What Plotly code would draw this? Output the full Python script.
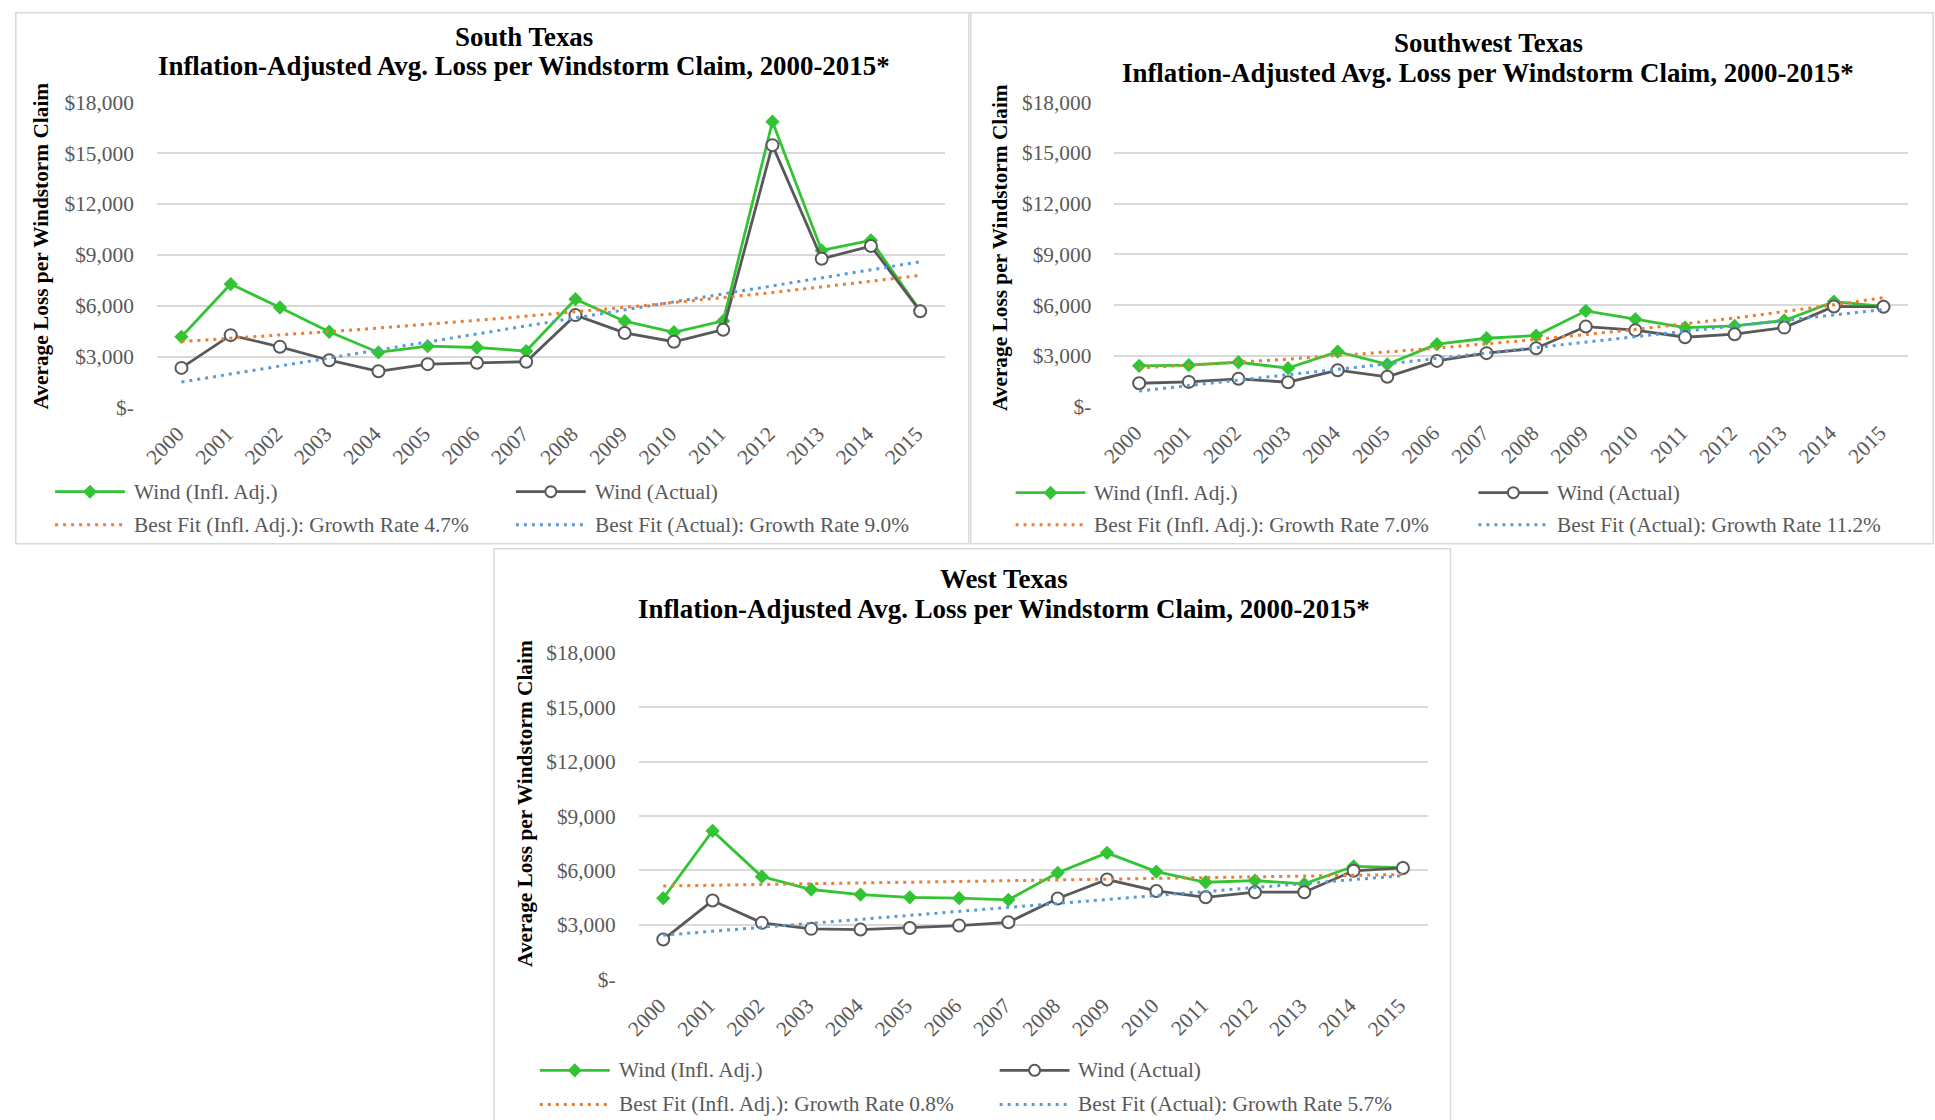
import numpy as np
import plotly.graph_objects as go

W, H = 1935, 1120
FONT = "Liberation Serif"
GRAY_TXT = "#595959"
GREEN = "#33C433"
DARK = "#595959"
ORANGE = "#ED7D31"
BLUE = "#5B9BD5"
GRID = "#D9D9D9"
F_TITLE = 26.9
F_TICK = 21.33
F_YT = 21.33

# ---------------- data ----------------
year_labels = ["2000", "2001", "2002", "2003", "2004", "2005", "2006", "2007",
               "2008", "2009", "2010", "2011", "2012", "2013", "2014", "2015"]

south_infl = [4170, 7280, 5900, 4470, 3250, 3620, 3540, 3330, 6390, 5090, 4440, 5110, 16850, 9260, 9860, 5700]
south_actual = [2340, 4270, 3580, 2790, 2140, 2560, 2640, 2700, 5450, 4400, 3880, 4590, 15470, 8770, 9520, 5680]

sw_infl = [2410, 2450, 2620, 2270, 3250, 2500, 3690, 4040, 4200, 5660, 5170, 4670, 4770, 5090, 6210, 5930]
sw_actual = [1380, 1460, 1640, 1440, 2150, 1760, 2700, 3160, 3450, 4730, 4520, 4100, 4280, 4670, 5920, 5900]

west_infl = [4470, 8180, 5660, 4950, 4670, 4520, 4470, 4380, 5870, 6970, 5940, 5350, 5440, 5260, 6230, 6160]
west_actual = [2190, 4340, 3110, 2780, 2740, 2830, 2960, 3140, 4450, 5500, 4870, 4520, 4800, 4800, 5980, 6140]

region_names = ["South Texas", "Southwest Texas", "West Texas"]
growth_infl = ["4.7%", "7.0%", "0.8%"]
growth_actual = ["9.0%", "11.2%", "5.7%"]

y_tick_vals = [0, 3000, 6000, 9000, 12000, 15000, 18000]
y_tick_text = ["$-", "$3,000", "$6,000", "$9,000", "$12,000", "$15,000", "$18,000"]

subtitle = "Inflation-Adjusted Avg. Loss per Windstorm Claim, 2000-2015*"
y_title = "Average Loss per Windstorm Claim"

# ---------------- layout geometry (target pixels in the final picture) ----------------
panels = [
    dict(box=(5, 4, 966, 542), plot=(152, 101, 942, 406), title_x=520, title_y=(36, 65),
         ytitle=(36, 245), leg_x=(50, 512), leg_y=(490, 523)),
    dict(box=(968, 4, 1933, 542), plot=(1112, 101, 1908, 405), title_x=1487, title_y=(42, 72),
         ytitle=(998, 246), leg_x=(1013, 1477), leg_y=(491, 523)),
    dict(box=(490, 547, 1449, 1160), plot=(635, 651, 1426, 977), title_x=1001, title_y=(577, 607),
         ytitle=(521, 801), leg_x=(536, 997), leg_y=(1068, 1102)),
]
series = [(south_infl, south_actual), (sw_infl, sw_actual), (west_infl, west_actual)]

# the page is photographed with a small padding; compensate so that
# target picture pixels map to the right paper positions
SX, OX = 0.9948, 9.8
SY, OY = 0.9774, 10.9


def px_x(x):
    return (x - OX) / SX


def px_y(y):
    return (y - OY) / SY


def fx(x):
    return px_x(x) / W


def fy(y):
    return 1 - px_y(y) / H


def clamp_x(v):
    return min(max(v, 0.8 / W), 1 - 0.8 / W)


def clamp_top(v):
    return min(v, 1 - 0.8 / H)


fig = go.Figure()
shapes = []
annotations = []
layout_axes = {}

x_idx = np.arange(len(year_labels))
xs_fine = np.linspace(0, len(year_labels) - 1, 151)

for i, (pan, (infl, actual)) in enumerate(zip(panels, series)):
    n = i + 1
    xa = "x" if n == 1 else f"x{n}"
    ya = "y" if n == 1 else f"y{n}"
    xname = "xaxis" if n == 1 else f"xaxis{n}"
    yname = "yaxis" if n == 1 else f"yaxis{n}"
    px0, py0, px1, py1 = pan["plot"]

    layout_axes[xname] = dict(
        domain=[fx(px0), fx(px1)], anchor=ya, range=[-0.5, len(year_labels) - 0.5],
        tickmode="array", tickvals=list(x_idx),
        ticktext=[lab + "\u00a0" for lab in year_labels], tickangle=-45,
        showgrid=False, zeroline=False, showline=False, ticks="",
        tickfont=dict(family=FONT, size=F_TICK, color=GRAY_TXT), ticklabelstandoff=5,
        fixedrange=True,
    )
    layout_axes[yname] = dict(
        domain=[fy(py1), fy(py0)], anchor=xa, range=[0, 18000],
        tickmode="array", tickvals=y_tick_vals, ticktext=y_tick_text,
        showgrid=True, gridcolor=GRID, gridwidth=1.5, zeroline=False, showline=False, ticks="",
        tickfont=dict(family=FONT, size=F_TICK, color=GRAY_TXT), ticklabelstandoff=22,
        fixedrange=True,
    )

    # data series
    fig.add_trace(go.Scatter(
        x=x_idx, y=infl, xaxis=xa, yaxis=ya, mode="lines+markers",
        line=dict(color=GREEN, width=2.8),
        marker=dict(symbol="diamond", size=11, color=GREEN),
        cliponaxis=False, showlegend=False, name="Wind (Infl. Adj.)"))
    fig.add_trace(go.Scatter(
        x=x_idx, y=actual, xaxis=xa, yaxis=ya, mode="lines+markers",
        line=dict(color=DARK, width=2.8),
        marker=dict(symbol="circle", size=12, color="white", line=dict(color=DARK, width=2)),
        cliponaxis=False, showlegend=False, name="Wind (Actual)"))

    # trendlines: exponential fit of inflation-adjusted, linear fit of actual
    b_exp = np.polyfit(x_idx, np.log(np.array(infl, dtype=float)), 1)
    trend_infl = np.exp(b_exp[1] + b_exp[0] * xs_fine)
    b_lin = np.polyfit(x_idx, np.array(actual, dtype=float), 1)
    trend_act = b_lin[1] + b_lin[0] * xs_fine
    fig.add_trace(go.Scatter(
        x=xs_fine, y=trend_infl, xaxis=xa, yaxis=ya, mode="lines",
        line=dict(color=ORANGE, width=3, dash="3px,5px"), showlegend=False,
        name="Best Fit (Infl. Adj.)"))
    fig.add_trace(go.Scatter(
        x=xs_fine, y=trend_act, xaxis=xa, yaxis=ya, mode="lines",
        line=dict(color=BLUE, width=3, dash="3px,5px"), showlegend=False,
        name="Best Fit (Actual)"))

    # panel border
    bx0, by0, bx1, by1 = pan["box"]
    shapes.append(dict(type="rect", xref="paper", yref="paper",
                       x0=clamp_x(fx(bx0)), x1=clamp_x(fx(bx1)),
                       y0=fy(by1), y1=clamp_top(fy(by0)),
                       line=dict(color=GRID, width=1.5), fillcolor="rgba(0,0,0,0)", layer="below"))

    # titles
    tx = pan["title_x"]
    annotations.append(dict(text=f"<b>{region_names[i]}</b>", xref="paper", yref="paper",
                            x=fx(tx), y=fy(pan["title_y"][0]), xanchor="center", yanchor="middle",
                            showarrow=False, font=dict(family=FONT, size=F_TITLE, color="black")))
    annotations.append(dict(text=f"<b>{subtitle}</b>", xref="paper", yref="paper",
                            x=fx(tx), y=fy(pan["title_y"][1]), xanchor="center", yanchor="middle",
                            showarrow=False, font=dict(family=FONT, size=F_TITLE, color="black")))
    # y-axis title
    annotations.append(dict(text=f"<b>{y_title}</b>", xref="paper", yref="paper",
                            x=fx(pan["ytitle"][0]), y=fy(pan["ytitle"][1]), textangle=-90,
                            xanchor="center", yanchor="middle", showarrow=False,
                            font=dict(family=FONT, size=F_YT, color="black")))

    # legend (manual, 2x2) drawn with shapes
    lx1, lx2 = pan["leg_x"]
    ly1, ly2 = pan["leg_y"]
    entries = [
        (lx1, ly1, "Wind (Infl. Adj.)", "green"),
        (lx2, ly1, "Wind (Actual)", "actual"),
        (lx1, ly2, f"Best Fit (Infl. Adj.): Growth Rate {growth_infl[i]}", "orange"),
        (lx2, ly2, f"Best Fit (Actual): Growth Rate {growth_actual[i]}", "blue"),
    ]
    for ex, ey, label, kind in entries:
        if kind == "green":
            shapes.append(dict(type="line", xref="paper", yref="paper",
                               x0=fx(ex), x1=fx(ex + 70), y0=fy(ey), y1=fy(ey),
                               line=dict(color=GREEN, width=2.8)))
            cx, cy, r = ex + 35, ey, 7
            shapes.append(dict(type="path", xref="paper", yref="paper",
                               path=(f"M {fx(cx)},{fy(cy - r)} L {fx(cx + r)},{fy(cy)} "
                                     f"L {fx(cx)},{fy(cy + r)} L {fx(cx - r)},{fy(cy)} Z"),
                               fillcolor=GREEN, line=dict(color=GREEN, width=0)))
        elif kind == "actual":
            shapes.append(dict(type="line", xref="paper", yref="paper",
                               x0=fx(ex), x1=fx(ex + 70), y0=fy(ey), y1=fy(ey),
                               line=dict(color=DARK, width=2.8)))
            cx, cy, r = ex + 35, ey, 5.5
            shapes.append(dict(type="circle", xref="paper", yref="paper",
                               x0=fx(cx - r), x1=fx(cx + r), y0=fy(cy + r), y1=fy(cy - r),
                               fillcolor="white", line=dict(color=DARK, width=2)))
        else:
            col = ORANGE if kind == "orange" else BLUE
            shapes.append(dict(type="line", xref="paper", yref="paper",
                               x0=fx(ex), x1=fx(ex + 70), y0=fy(ey), y1=fy(ey),
                               line=dict(color=col, width=3, dash="3px,5px")))
        annotations.append(dict(text=label, xref="paper", yref="paper",
                                x=fx(ex + 77), y=fy(ey), xanchor="left", yanchor="middle",
                                showarrow=False, font=dict(family=FONT, size=F_TICK, color=GRAY_TXT)))

fig.update_layout(
    width=W, height=H,
    margin=dict(l=0, r=0, t=0, b=0),
    paper_bgcolor="white", plot_bgcolor="rgba(0,0,0,0)",
    showlegend=False,
    shapes=shapes, annotations=annotations,
    font=dict(family=FONT),
    **layout_axes,
)

fig.write_html(
    "out.html",
    config={"displayModeBar": False},
    post_script="document.body.style.margin='0';document.body.style.overflow='hidden';",
)
